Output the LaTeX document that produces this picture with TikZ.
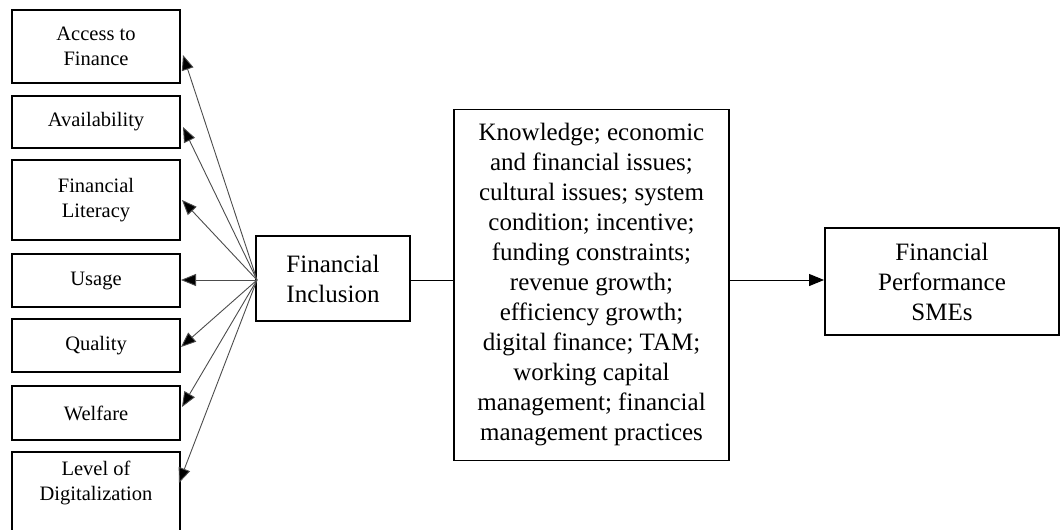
\documentclass[tikz,border=0pt]{standalone}
\usepackage{fontspec}
\setmainfont{Liberation Serif}
\usetikzlibrary{arrows.meta,calc}
\begin{document}
\begin{tikzpicture}[x=1pt,y=-1pt,
  box/.style={draw=black,line width=1.9pt,rectangle,inner sep=0pt,align=center},
  leftbox/.style={box,minimum width=168pt,font=\fontsize{20.5}{25}\selectfont},
  bigfont/.style={font=\fontsize{25}{30}\selectfont},
  spoke/.style={draw=black!70,line width=0.9pt,-{Triangle[length=15pt,width=12pt,fill=black]}},
  link/.style={draw=black,line width=1pt}]
\useasboundingbox (0,0) rectangle (1061,530);

% left column of dimensions
\node[leftbox,minimum height=73pt] (acc) at (96,46.5) {Access to\\Finance};
\node[leftbox,minimum height=52pt] (avl) at (96,122) {Availability};
\node[leftbox,minimum height=80pt] (lit) at (96,200) {Financial\\Literacy};
\node[leftbox,minimum height=53pt] (use) at (96,280.5) {Usage};
\node[leftbox,minimum height=53pt] (qua) at (96,345.5) {Quality};
\node[leftbox,minimum height=54pt] (wel) at (96,413) {Welfare};
\node[leftbox,minimum height=90pt] (lvl) at (96,497) {};
\node[font=\fontsize{20.5}{25}\selectfont,align=center] (lvltxt) at (96,483) {Level of\\Digitalization};

% central chain
\node[box,bigfont,minimum width=154pt,minimum height=85pt] (fi) at (333,278.5) {Financial\\Inclusion};
\node[box,font=\fontsize{25}{30}\selectfont,minimum width=275pt,minimum height=351pt] (mid) at (591.5,285)
  {Knowledge; economic\\and financial issues;\\cultural issues; system\\condition; incentive;\\funding constraints;\\revenue growth;\\efficiency growth;\\digital finance; TAM;\\working capital\\management; financial\\management practices};
\node[box,bigfont,minimum width=234pt,minimum height=107pt] (perf) at (942,281.5) {Financial\\Performance\\SMEs};

% arrow tips beside the left boxes
\coordinate (hub) at (257,280);
\coordinate (tacc) at (183,55);
\coordinate (tavl) at (183,127);
\coordinate (tlit) at (182,200);
\coordinate (tuse) at (181,280);
\coordinate (tqua) at (181,347);
\coordinate (twel) at (182,407);
\coordinate (tlvl) at (179,483);

\foreach \t in {tacc,tavl,tlit,tuse,tqua,twel,tlvl}
  \draw[spoke] (hub) -- (\t);

\draw[link] (hub -| fi.east) -- (hub -| mid.west);
\draw[link,-{Triangle[length=15pt,width=12pt]}] (hub -| mid.east) -- (hub -| perf.west);
\end{tikzpicture}
\end{document}
